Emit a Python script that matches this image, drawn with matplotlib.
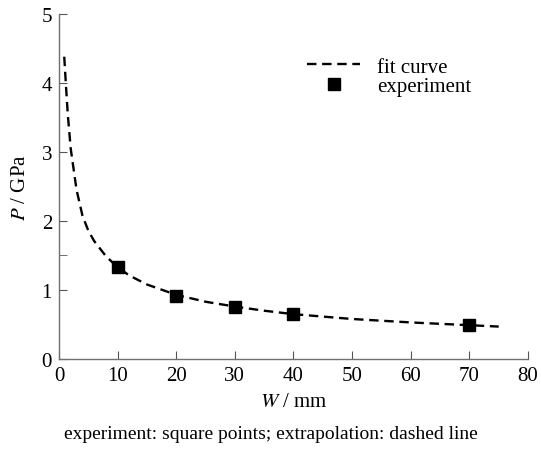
import numpy as np
import matplotlib.pyplot as plt
from matplotlib.ticker import MultipleLocator, FixedLocator

plt.rcParams['font.family'] = ['Liberation Serif', 'DejaVu Serif']
plt.rcParams['mathtext.fontset'] = 'stix'

# experiment points
w_exp = [10, 20, 30, 40, 70]
p_exp = [1.33, 0.92, 0.75, 0.65, 0.49]

# fit curve
w_fit = [0.9, 1.2, 1.5, 2, 3, 4, 5, 6, 8, 10, 12, 15, 20, 25, 30, 35, 40, 50, 60, 70, 75]
p_fit = [4.38, 3.95, 3.55, 3.05, 2.45, 2.08, 1.86, 1.71, 1.49, 1.33, 1.21, 1.08, 0.93,
         0.83, 0.76, 0.70, 0.65, 0.58, 0.53, 0.49, 0.47]

fig = plt.figure(figsize=(5.41, 4.52), dpi=100)
ax = fig.add_axes([0.109, 0.2035, 0.867, 0.7635])

ax.plot(w_fit, p_fit, 'k--', lw=1.7, dashes=(4, 2.4), label='fit curve')
ax.plot(w_exp, p_exp, 'ks', ms=9, ls='none', label='experiment')

ax.set_xlim(0, 80)
ax.set_ylim(0, 5)
ax.xaxis.set_major_locator(MultipleLocator(10))
ax.yaxis.set_major_locator(MultipleLocator(1))
ax.yaxis.set_minor_locator(FixedLocator([1.5]))

for s in ['top', 'right']:
    ax.spines[s].set_visible(False)
for s in ['left', 'bottom']:
    ax.spines[s].set_color('#707070')
    ax.spines[s].set_linewidth(1.0)

ax.tick_params(direction='in', which='both', color='#555555', labelsize=15, pad=5)
ax.tick_params(which='major', length=6)
ax.tick_params(which='minor', length=6)

ax.set_xlabel('$W$ / mm', fontsize=15, labelpad=5)
ax.set_ylabel('$P$ / GPa', fontsize=15, labelpad=8)

ax.legend(loc='upper left', bbox_to_anchor=(0.529, 0.875), frameon=False,
          fontsize=15, handlelength=2.55, handletextpad=0.8, labelspacing=0.0,
          borderpad=0, borderaxespad=0)

fig.text(0.5, 0.038, 'experiment: square points; extrapolation: dashed line',
         ha='center', va='center', fontsize=14)

plt.savefig('out.png', dpi=100)
